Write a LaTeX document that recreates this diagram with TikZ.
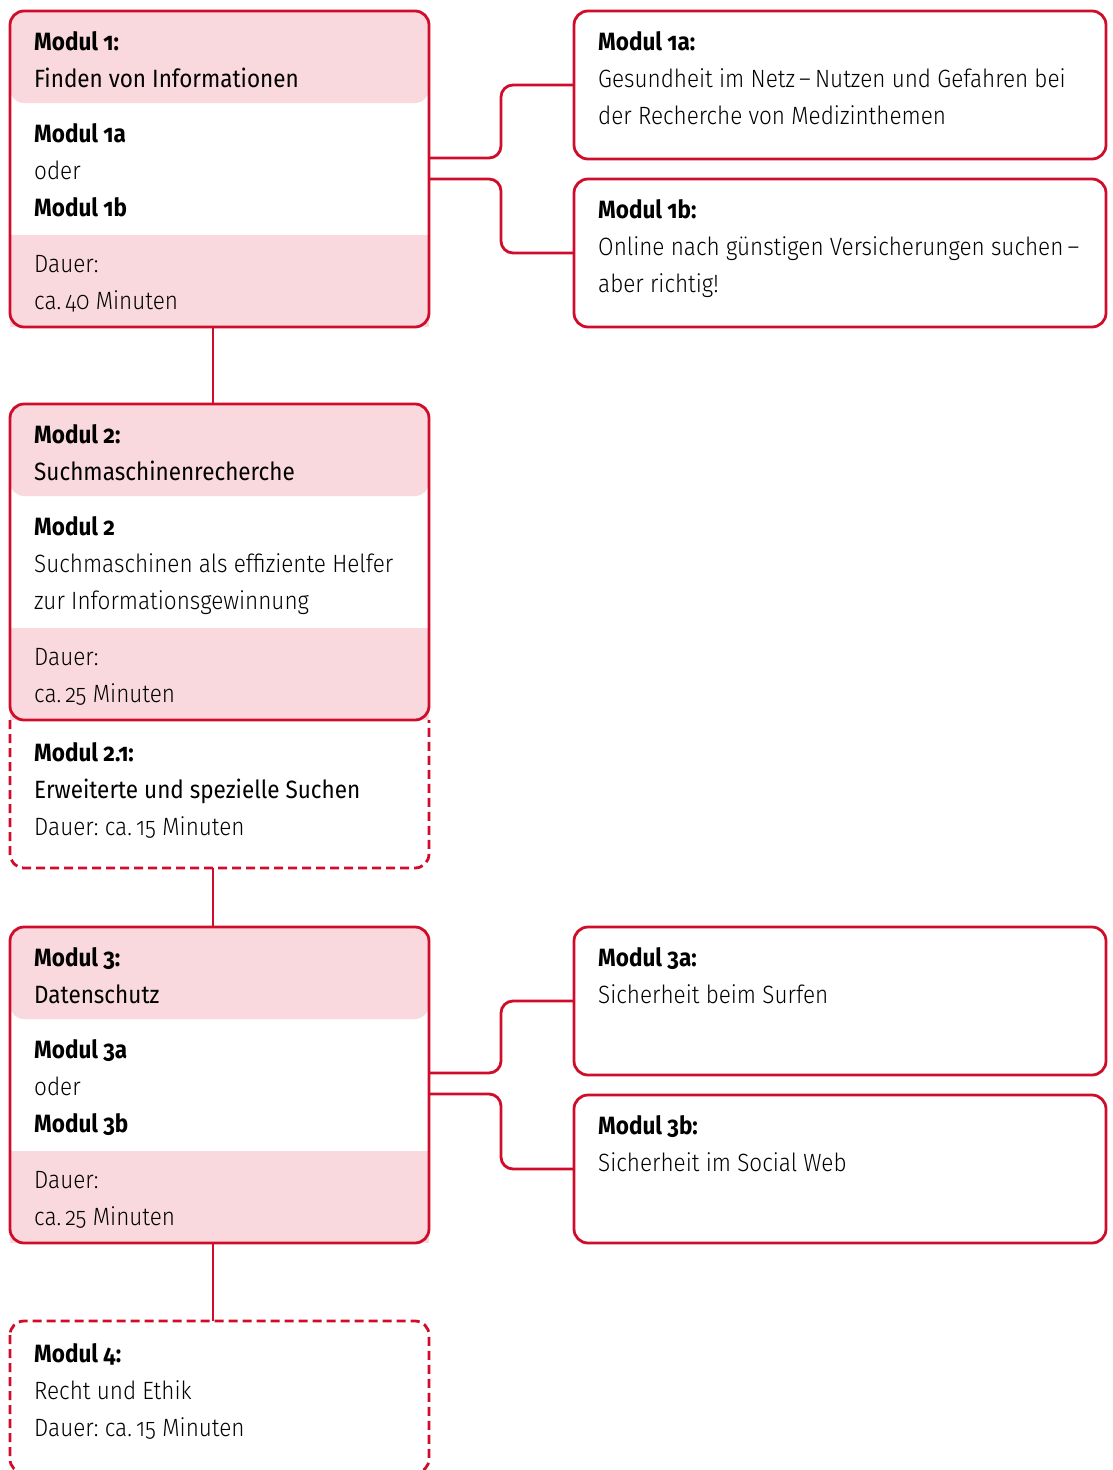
\documentclass[tikz,border=0pt]{standalone}
\usepackage{fontspec}
\setmainfont{Fira Sans}[UprightFont=* Light, BoldFont=* Bold, Numbers=OldStyle, FakeStretch=0.9]
\newfontfamily\subfont{Fira Sans}[Numbers=OldStyle, FakeStretch=0.9]
\frenchspacing
\usetikzlibrary{calc,positioning}
\definecolor{modred}{RGB}{207,12,42}
\definecolor{modpink}{RGB}{249,217,222}
\tikzstyle{band} = [rectangle, minimum width=419pt, inner sep=0pt, outer sep=0pt]
\tikzstyle{headband} = [band, rounded corners=14pt, fill=modpink, minimum height=92pt]
\tikzstyle{bodyband} = [band, minimum height=132pt]
\tikzstyle{footband} = [band, fill=modpink, minimum height=92pt]
\tikzstyle{extrabox} = [band, minimum height=148pt]
\tikzstyle{frame} = [draw=modred, line width=2.8pt, rounded corners=14pt]
\tikzstyle{dashframe} = [frame, dash pattern=on 9pt off 5pt]
\tikzstyle{sidebox} = [rectangle, frame, minimum width=532pt, minimum height=148pt, inner sep=0pt, outer sep=0pt]
\tikzstyle{txt} = [inner sep=0pt, align=left, font=\fontsize{25}{37}\selectfont]
\tikzstyle{link} = [draw=modred, line width=2.8pt, rounded corners=12pt]

\begin{document}
\begin{tikzpicture}[x=1pt,y=-1pt,node distance=0pt]
    \useasboundingbox (0,0) rectangle (1112,1470);

    % Modul 1
    \node (M1Head) [headband, anchor=north west] at (10,11) {};
    \node (M1Body) [bodyband, below=of M1Head] {};
    \node (M1Foot) [footband, below=of M1Body] {};
    \draw[frame] (M1Head.north west) rectangle (M1Foot.south east);
    \node (M1HeadText) [txt, below right=20pt and 24pt of M1Head.north west] {\textbf{Modul 1:}\\\subfont Finden von Informationen};
    \node (M1BodyText) [txt, below right=20pt and 24pt of M1Body.north west] {\textbf{Modul 1a}\\oder\\\textbf{Modul 1b}};
    \node (M1FootText) [txt, below right=20pt and 24pt of M1Foot.north west] {Dauer:\\ca.\,40 Minuten};

    \node (M1a) [sidebox, below right=0pt and 145pt of M1Head.north east] {};
    \node (M1aText) [txt, below right=20pt and 24pt of M1a.north west] {\textbf{Modul 1a:}\\Gesundheit im Netz\,--\,Nutzen und Gefahren bei\\der Recherche von Medizinthemen};
    \node (M1b) [sidebox, above right=0pt and 145pt of M1Foot.south east] {};
    \node (M1bText) [txt, below right=20pt and 24pt of M1b.north west] {\textbf{Modul 1b:}\\Online nach günstigen Versicherungen suchen\,--\\aber richtig!};
    \draw[link] ([yshift=11pt]M1Body.east) -- ++(72pt,0) |- (M1a.west);
    \draw[link] ([yshift=-10pt]M1Body.east) -- ++(72pt,0) |- (M1b.west);

    % Modul 2 und 2.1
    \node (M2Head) [headband, below=77pt of M1Foot] {};
    \node (M2Body) [bodyband, below=of M2Head] {};
    \node (M2Foot) [footband, below=of M2Body] {};
    \node (M21) [extrabox, below=of M2Foot] {};
    \draw[dashframe] (M21.north west) -- (M21.south west) -- (M21.south east) -- (M21.north east);
    \draw[frame] (M2Head.north west) rectangle (M2Foot.south east);
    \node (M2HeadText) [txt, below right=20pt and 24pt of M2Head.north west] {\textbf{Modul 2:}\\\subfont Suchmaschinenrecherche};
    \node (M2BodyText) [txt, below right=20pt and 24pt of M2Body.north west] {\textbf{Modul 2}\\Suchmaschinen als effiziente Helfer\\zur Informationsgewinnung};
    \node (M2FootText) [txt, below right=20pt and 24pt of M2Foot.north west] {Dauer:\\ca.\,25 Minuten};
    \node (M21Text) [txt, below right=22pt and 24pt of M21.north west] {\textbf{Modul 2.1:}\\{\subfont Erweiterte und spezielle Suchen}\\Dauer: ca.\,15 Minuten};
    \draw[link] ([xshift=-6.5pt]M1Foot.south) -- ([xshift=-6.5pt]M2Head.north);

    % Modul 3
    \node (M3Head) [headband, below=59pt of M21] {};
    \node (M3Body) [bodyband, below=of M3Head] {};
    \node (M3Foot) [footband, below=of M3Body] {};
    \draw[frame] (M3Head.north west) rectangle (M3Foot.south east);
    \node (M3HeadText) [txt, below right=20pt and 24pt of M3Head.north west] {\textbf{Modul 3:}\\\subfont Datenschutz};
    \node (M3BodyText) [txt, below right=20pt and 24pt of M3Body.north west] {\textbf{Modul 3a}\\oder\\\textbf{Modul 3b}};
    \node (M3FootText) [txt, below right=20pt and 24pt of M3Foot.north west] {Dauer:\\ca.\,25 Minuten};
    \draw[link] ([xshift=-6.5pt]M21.south) -- ([xshift=-6.5pt]M3Head.north);

    \node (M3a) [sidebox, below right=0pt and 145pt of M3Head.north east] {};
    \node (M3aText) [txt, below right=20pt and 24pt of M3a.north west] {\textbf{Modul 3a:}\\Sicherheit beim Surfen};
    \node (M3b) [sidebox, above right=0pt and 145pt of M3Foot.south east] {};
    \node (M3bText) [txt, below right=20pt and 24pt of M3b.north west] {\textbf{Modul 3b:}\\Sicherheit im Social Web};
    \draw[link] ([yshift=12pt]M3Body.east) -- ++(72pt,0) |- (M3a.west);
    \draw[link] ([yshift=-9pt]M3Body.east) -- ++(72pt,0) |- (M3b.west);

    % Modul 4
    \node (M4) [extrabox, below=78pt of M3Foot, minimum height=152pt] {};
    \draw[dashframe] (M4.north west) rectangle (M4.south east);
    \node (M4Text) [txt, below right=22pt and 24pt of M4.north west] {\textbf{Modul 4:}\\Recht und Ethik\\Dauer: ca.\,15 Minuten};
    \draw[link] ([xshift=-6.5pt]M3Foot.south) -- ([xshift=-6.5pt]M4.north);
\end{tikzpicture}
\end{document}
